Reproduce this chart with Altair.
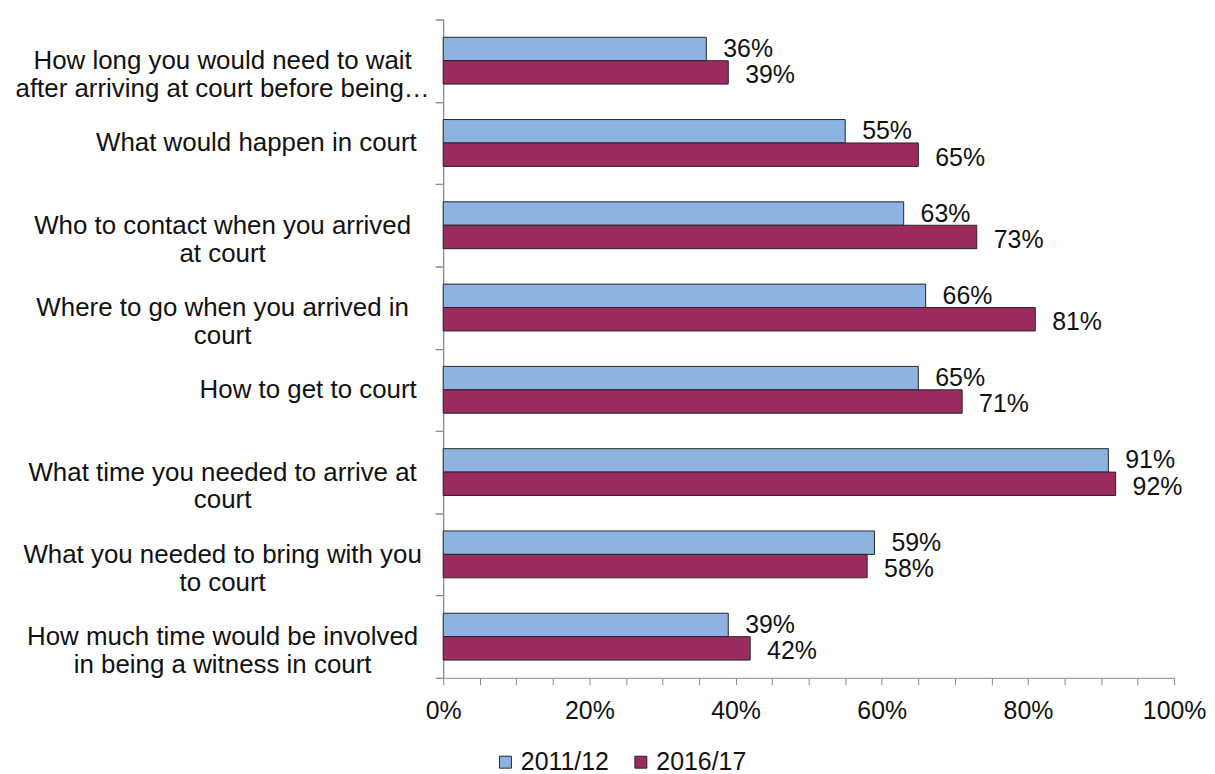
import altair as alt
import pandas as pd

categories = [
    "How long you would need to wait\nafter arriving at court before being…",
    "What would happen in court",
    "Who to contact when you arrived\nat court",
    "Where to go when you arrived in\ncourt",
    "How to get to court",
    "What time you needed to arrive at\ncourt",
    "What you needed to bring with you\nto court",
    "How much time would be involved\nin being a witness in court",
]
series = ["2011/12", "2016/17"]
values_2011 = [36, 55, 63, 66, 65, 91, 59, 39]
values_2016 = [39, 65, 73, 81, 71, 92, 58, 42]
x_ticks = [i * 5 for i in range(21)]  # percent, minor every 5, labelled every 20

rows = []
for c, a, b in zip(categories, values_2011, values_2016):
    rows.append({"q": c, "year": series[0], "v": a / 100})
    rows.append({"q": c, "year": series[1], "v": b / 100})
df = pd.DataFrame(rows)

FONT = "Liberation Sans"
AXIS_GREY = "#8c8c8c"
TEXT = "#111111"
IS_MULTI = "indexof(datum.label + '', '\\n') >= 0"

color_scale = alt.Scale(domain=series, range=["#8DB3E2", "#9B2B5F"])

x_enc = alt.X(
    "v:Q",
    title=None,
    scale=alt.Scale(domain=[0, 1], nice=False, zero=True),
    axis=alt.Axis(
        values=[t / 100 for t in x_ticks],
        labelExpr="round(datum.value*100) % 20 == 0 ? round(datum.value*100) + '%' : ''",
        labelFlush=False,
        labelOverlap=False,
        labelFont=FONT,
        labelFontSize=25,
        labelColor=TEXT,
        labelPadding=14,
        tickSize=7,
        tickColor=AXIS_GREY,
        domainColor=AXIS_GREY,
        grid=False,
    ),
)

y_scale = alt.Scale(paddingInner=0, paddingOuter=0)


def y_axis(label_expr, align, padding):
    return alt.Axis(
        orient="left",
        labelExpr=label_expr,
        labelFont=FONT,
        labelFontSize=26,
        labelColor=TEXT,
        labelLineHeight=28,
        labelLimit=600,
        labelBaseline="middle",
        labelAlign=align,
        labelPadding=padding,
        tickBand="extent",
        tickSize=8,
        tickColor=AXIS_GREY,
        domainColor=AXIS_GREY,
        grid=False,
    )


# multi-line labels: lines centred on each other
y_multi = alt.Y(
    "q:N", sort=categories, title=None, scale=y_scale,
    axis=y_axis(IS_MULTI + " ? split(datum.label + '', '\\n') : ''", "center", 214),
)
# single-line labels: right aligned next to the axis
y_single = alt.Y(
    "q:N", sort=categories, title=None, scale=y_scale,
    axis=y_axis(IS_MULTI + " ? '' : datum.label", "right", 19),
)
y_plain = alt.Y("q:N", sort=categories, title=None, scale=y_scale, axis=None)

yoff_enc = alt.YOffset(
    "year:N", sort=series, scale=alt.Scale(paddingInner=0, paddingOuter=0.757)
)

bars = alt.Chart(df).mark_bar(stroke="#262626", strokeWidth=1).encode(
    x=x_enc,
    y=y_multi,
    yOffset=yoff_enc,
    color=alt.Color(
        "year:N",
        scale=color_scale,
        legend=alt.Legend(
            orient="none",
            legendX=50,
            legendY=733,
            direction="horizontal",
            title=None,
            symbolType="square",
            symbolSize=144,
            symbolStrokeColor="#262626",
            symbolStrokeWidth=1,
            symbolOpacity=1,
            labelFont=FONT,
            labelFontSize=25,
            labelColor=TEXT,
            labelOffset=3,
            columnPadding=19,
            padding=0,
        ),
    ),
)


def value_labels(year, dy, y_enc):
    return (
        alt.Chart(df)
        .transform_filter(alt.datum.year == year)
        .mark_text(align="left", baseline="middle", dx=17, dy=dy,
                   fontSize=25, font=FONT, color=TEXT)
        .encode(
            x=x_enc,
            y=y_enc,
            yOffset=yoff_enc,
            text=alt.Text("v:Q", format=".0%"),
        )
    )


labels_a = value_labels(series[0], 0, y_single)
labels_b = value_labels(series[1], 3, y_plain)

chart = (
    alt.layer(bars, labels_a, labels_b)
    .resolve_axis(y="independent")
    .properties(
        width=734,
        height=661,
        autosize=alt.AutoSizeParams(type="none"),
        padding={"left": 437, "top": 10, "right": 33, "bottom": 95},
        background="white",
    )
    .configure_view(stroke=None)
)

chart.save("out.html", embed_options={"renderer": "svg", "actions": False})
